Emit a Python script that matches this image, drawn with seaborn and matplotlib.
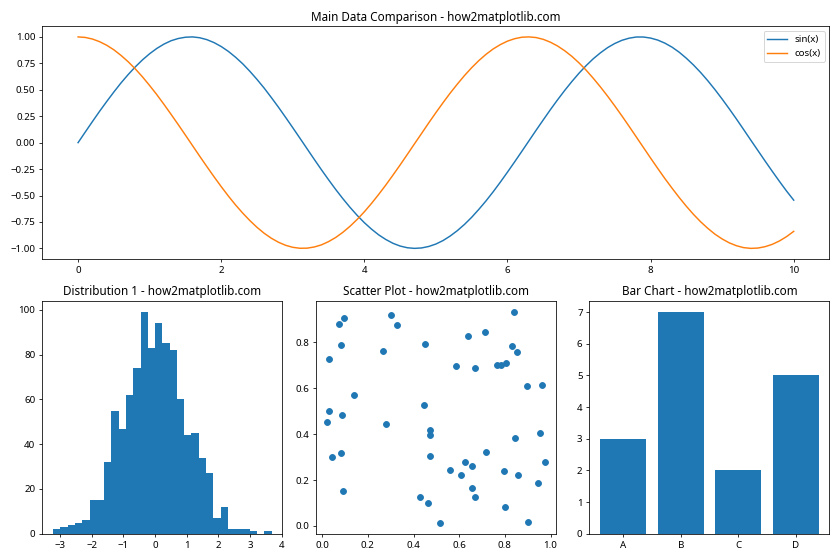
import numpy as np
import pandas as pd
import matplotlib
matplotlib.use("Agg")
import matplotlib.pyplot as plt
import seaborn as sns

plt.rcParams['font.family'] = ['Noto Sans', 'DejaVu Sans']

# ---- Top panel: sin / cos values ----
x_vals = [0.0, 0.1, 0.2, 0.3, 0.4, 0.5, 0.6, 0.7, 0.8, 0.9,
          1.0, 1.1, 1.2, 1.3, 1.4, 1.5, 1.6, 1.7, 1.8, 1.9,
          2.0, 2.1, 2.2, 2.3, 2.4, 2.5, 2.6, 2.7, 2.8, 2.9,
          3.0, 3.1, 3.2, 3.3, 3.4, 3.5, 3.6, 3.7, 3.8, 3.9,
          4.0, 4.1, 4.2, 4.3, 4.4, 4.5, 4.6, 4.7, 4.8, 4.9,
          5.0, 5.1, 5.2, 5.3, 5.4, 5.5, 5.6, 5.7, 5.8, 5.9,
          6.0, 6.1, 6.2, 6.3, 6.4, 6.5, 6.6, 6.7, 6.8, 6.9,
          7.0, 7.1, 7.2, 7.3, 7.4, 7.5, 7.6, 7.7, 7.8, 7.9,
          8.0, 8.1, 8.2, 8.3, 8.4, 8.5, 8.6, 8.7, 8.8, 8.9,
          9.0, 9.1, 9.2, 9.3, 9.4, 9.5, 9.6, 9.7, 9.8, 9.9, 10.0]
sin_vals = [0.000, 0.100, 0.199, 0.296, 0.389, 0.479, 0.565, 0.644, 0.717, 0.783,
            0.841, 0.891, 0.932, 0.964, 0.985, 0.997, 1.000, 0.992, 0.974, 0.946,
            0.909, 0.863, 0.808, 0.746, 0.675, 0.598, 0.516, 0.427, 0.335, 0.239,
            0.141, 0.042, -0.058, -0.158, -0.256, -0.351, -0.443, -0.530, -0.612, -0.688,
            -0.757, -0.818, -0.872, -0.916, -0.952, -0.978, -0.994, -1.000, -0.996, -0.982,
            -0.959, -0.926, -0.883, -0.832, -0.773, -0.706, -0.631, -0.551, -0.465, -0.374,
            -0.279, -0.182, -0.083, 0.017, 0.117, 0.215, 0.312, 0.405, 0.494, 0.578,
            0.657, 0.729, 0.794, 0.850, 0.899, 0.938, 0.968, 0.988, 0.999, 0.999,
            0.989, 0.970, 0.941, 0.903, 0.855, 0.798, 0.734, 0.663, 0.585, 0.501,
            0.412, 0.319, 0.223, 0.124, 0.024, -0.075, -0.174, -0.271, -0.366, -0.458,
            -0.544]
cos_vals = [1.000, 0.995, 0.980, 0.955, 0.921, 0.878, 0.825, 0.765, 0.697, 0.622,
            0.540, 0.454, 0.362, 0.267, 0.170, 0.071, -0.029, -0.129, -0.227, -0.323,
            -0.416, -0.505, -0.589, -0.666, -0.737, -0.801, -0.857, -0.904, -0.942, -0.971,
            -0.990, -0.999, -0.998, -0.987, -0.967, -0.936, -0.897, -0.848, -0.791, -0.726,
            -0.654, -0.575, -0.490, -0.401, -0.307, -0.211, -0.112, -0.012, 0.087, 0.187,
            0.284, 0.378, 0.469, 0.554, 0.635, 0.709, 0.776, 0.835, 0.886, 0.927,
            0.960, 0.983, 0.997, 1.000, 0.994, 0.977, 0.950, 0.914, 0.869, 0.816,
            0.754, 0.685, 0.608, 0.526, 0.439, 0.347, 0.252, 0.154, 0.054, -0.046,
            -0.146, -0.244, -0.340, -0.431, -0.519, -0.602, -0.679, -0.749, -0.811, -0.866,
            -0.911, -0.948, -0.975, -0.993, -1.000, -0.997, -0.984, -0.962, -0.930, -0.889,
            -0.839]

# ---- Histogram: bin counts ----
hist_counts = [2, 3, 4, 5, 6, 15, 15, 32, 55, 47, 62, 74, 99, 83, 94, 85, 82, 60, 44, 45,
               34, 27, 7, 12, 2, 2, 2, 1, 0, 1]
hist_lo = -3.21
hist_hi = 3.68

# ---- Scatter points ----
scatter_x = [0.095, 0.073, 0.300, 0.326, 0.081, 0.452, 0.029, 0.265, 0.138, 0.444,
             0.029, 0.086, 0.020, 0.278, 0.081, 0.041, 0.090, 0.427, 0.470, 0.474,
             0.474, 0.465, 0.518, 0.561, 0.609, 0.627, 0.657, 0.716, 0.657, 0.670,
             0.797, 0.858, 0.801, 0.900, 0.845, 0.954, 0.976, 0.944, 0.840, 0.640,
             0.714, 0.832, 0.853, 0.587, 0.670, 0.766, 0.784, 0.805, 0.897, 0.962]
scatter_y = [0.907, 0.881, 0.920, 0.876, 0.789, 0.793, 0.727, 0.762, 0.569, 0.525,
             0.503, 0.485, 0.454, 0.445, 0.318, 0.300, 0.151, 0.125, 0.416, 0.397,
             0.306, 0.100, 0.012, 0.243, 0.223, 0.280, 0.262, 0.323, 0.164, 0.125,
             0.239, 0.223, 0.081, 0.016, 0.384, 0.406, 0.279, 0.186, 0.934, 0.828,
             0.846, 0.784, 0.758, 0.696, 0.687, 0.701, 0.701, 0.709, 0.608, 0.613]

# ---- Bar chart ----
bar_cats = ['A', 'B', 'C', 'D']
bar_vals = [3, 7, 2, 5]

BLUE = '#1f77b4'
ORANGE = '#ff7f0e'

fig = plt.figure(figsize=(12, 8), dpi=70)
gs = fig.add_gridspec(2, 3)
ax_top = fig.add_subplot(gs[0, :])
ax_h = fig.add_subplot(gs[1, 0])
ax_s = fig.add_subplot(gs[1, 1])
ax_b = fig.add_subplot(gs[1, 2])

sns.lineplot(x=x_vals, y=sin_vals, ax=ax_top, color=BLUE, label='sin(x)', linewidth=1.5)
sns.lineplot(x=x_vals, y=cos_vals, ax=ax_top, color=ORANGE, label='cos(x)', linewidth=1.5)
ax_top.set_title('Main Data Comparison - how2matplotlib.com')
ax_top.legend(loc='upper right')

edges = np.linspace(hist_lo, hist_hi, len(hist_counts) + 1)
hist_df = pd.DataFrame({'center': (edges[:-1] + edges[1:]) / 2, 'count': hist_counts})
sns.histplot(data=hist_df, x='center', weights='count', bins=[float(e) for e in edges],
             ax=ax_h, color=BLUE, alpha=1, linewidth=0, edgecolor='none')
ax_h.set_xlabel('')
ax_h.set_ylabel('')
ax_h.set_title('Distribution 1 - how2matplotlib.com')

sns.scatterplot(x=scatter_x, y=scatter_y, ax=ax_s, color=BLUE, s=36,
                edgecolor=BLUE, linewidth=1)
ax_s.set_title('Scatter Plot - how2matplotlib.com')

bar_df = pd.DataFrame({'cat': bar_cats, 'val': bar_vals})
sns.barplot(data=bar_df, x='cat', y='val', ax=ax_b, color=BLUE, saturation=1, width=0.8)
ax_b.autoscale(enable=True, axis='x')
ax_b.margins(x=0.05)
ax_b.set_xlabel('')
ax_b.set_ylabel('')
ax_b.set_title('Bar Chart - how2matplotlib.com')

plt.tight_layout()
fig.savefig('out.png', dpi=70)
